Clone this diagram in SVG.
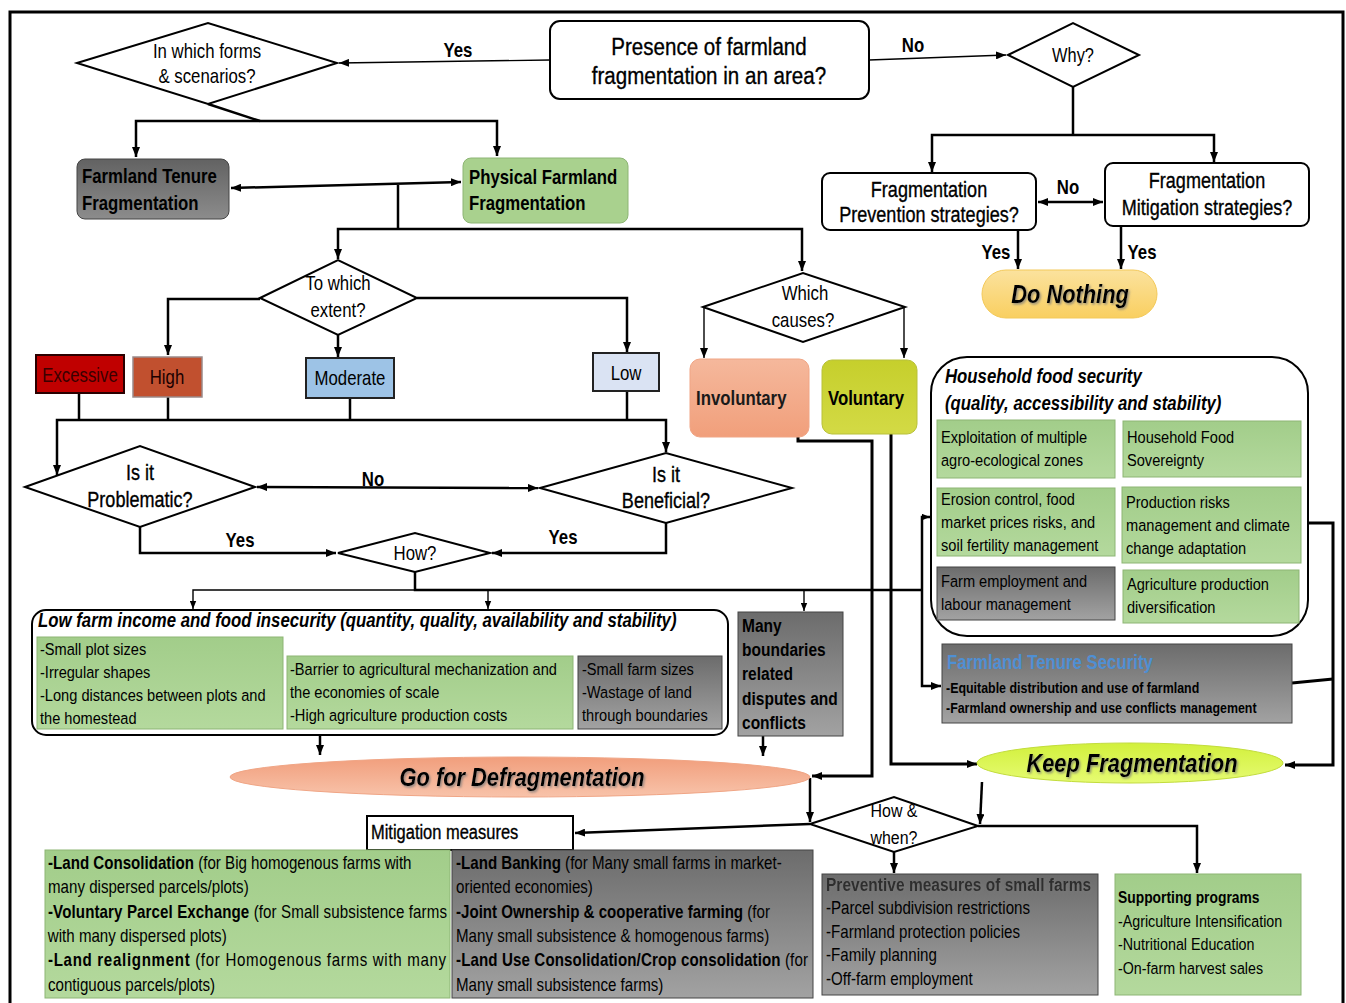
<svg xmlns="http://www.w3.org/2000/svg" width="1346" height="1003" viewBox="0 0 1346 1003">
  <style>
    text { font-family: "Liberation Sans", Arial, sans-serif; fill: #000;
           transform: scaleX(0.84); transform-box: fill-box; transform-origin: 0 0; }
    text.c { text-anchor: middle; transform-origin: 50% 0; }
    .b { font-weight: bold; }
    .i { font-style: italic; }
    .m { stroke: #000; stroke-width: 0.35; }
    .s17 { font-size: 17.4px; }
    .s18 { font-size: 18px; }
    .s20 { font-size: 20px; }
    .s21 { font-size: 21.5px; }
    .s26 { font-size: 26px; }
    .frame { fill: #fff; stroke: #000; stroke-width: 2; }
    .dia { fill: #fff; stroke: #000; stroke-width: 2; }
    .gray { fill: url(#gGray); stroke: #444; stroke-width: 1; }
    .green { fill: url(#gGreen); stroke: #8db574; stroke-width: 1; }
    .lbl { font-size: 20px; font-weight: bold; }
    #connectors path, #connectors line, #connectors polyline { fill: none; stroke: #000; stroke-width: 2.5; }
    #connectors .thin { stroke-width: 1.4; }
    #connectors .thick { stroke-width: 3; }
  </style>
  <defs>
    <linearGradient id="gGray" x1="0" y1="0" x2="0" y2="1">
      <stop offset="0" stop-color="#6c6c6c"/>
      <stop offset="1" stop-color="#a2a2a2"/>
    </linearGradient>
    <linearGradient id="gGrayDark" x1="0" y1="0" x2="0" y2="1">
      <stop offset="0" stop-color="#626262"/>
      <stop offset="1" stop-color="#8c8c8c"/>
    </linearGradient>
    <linearGradient id="gGreen" x1="0" y1="0" x2="0" y2="1">
      <stop offset="0" stop-color="#a2cd8a"/>
      <stop offset="1" stop-color="#b4d99d"/>
    </linearGradient>
    <linearGradient id="gSalmon" x1="0" y1="0" x2="0" y2="1">
      <stop offset="0" stop-color="#f5b89c"/>
      <stop offset="1" stop-color="#f19f7b"/>
    </linearGradient>
    <linearGradient id="gDefrag" x1="0" y1="0" x2="0" y2="1">
      <stop offset="0" stop-color="#f19e7c"/>
      <stop offset="1" stop-color="#f8c3aa"/>
    </linearGradient>
    <linearGradient id="gVol" x1="0" y1="0" x2="0" y2="1">
      <stop offset="0" stop-color="#c6cf2c"/>
      <stop offset="1" stop-color="#d3da45"/>
    </linearGradient>
    <linearGradient id="gGold" x1="0" y1="0" x2="0" y2="1">
      <stop offset="0" stop-color="#fbe29e"/>
      <stop offset="1" stop-color="#f9cf60"/>
    </linearGradient>
    <linearGradient id="gLime" x1="0" y1="0" x2="0" y2="1">
      <stop offset="0" stop-color="#d2f03c"/>
      <stop offset="1" stop-color="#e6fb72"/>
    </linearGradient>
    <filter id="shadow" x="-10%" y="-30%" width="120%" height="160%">
      <feDropShadow dx="1.5" dy="1.5" stdDeviation="1" flood-color="#777" flood-opacity="0.8"/>
    </filter>
    <marker id="arr" viewBox="0 0 10 8" refX="10" refY="4" markerWidth="10" markerHeight="8" markerUnits="userSpaceOnUse" orient="auto-start-reverse">
      <path d="M0,0 L10,4 L0,8 z" fill="#000"/>
    </marker>
    <marker id="arrS" viewBox="0 0 10 8" refX="10" refY="4" markerWidth="8" markerHeight="7" markerUnits="userSpaceOnUse" orient="auto-start-reverse">
      <path d="M0,0 L10,4 L0,8 z" fill="#000"/>
    </marker>
  </defs>

  <!-- page frame -->
  <rect x="10" y="12" width="1333" height="1000" fill="#fff" stroke="#000" stroke-width="3"/>

  <!-- connectors -->
  <g id="connectors">
    <line class="thin" x1="550" y1="60" x2="339" y2="63" marker-end="url(#arr)"/>
    <line class="thin" x1="869" y1="60" x2="1006" y2="55" marker-end="url(#arr)"/>
    <polyline points="208,104 260,121"/>
    <polyline points="136,157 136,121 497,121 497,156" marker-start="url(#arr)" marker-end="url(#arr)"/>
    <line x1="231" y1="188" x2="461" y2="182" marker-start="url(#arr)" marker-end="url(#arr)"/>
    <line x1="398" y1="185" x2="398" y2="229"/>
    <polyline points="338,259 338,229 802,229 802,271" marker-start="url(#arr)" marker-end="url(#arr)"/>
    <polyline points="260,299 168,299 168,355" marker-end="url(#arr)"/>
    <line x1="338" y1="335" x2="338" y2="357" marker-end="url(#arr)"/>
    <polyline points="417,298 627,298 627,352" marker-end="url(#arr)"/>
    <line x1="1073" y1="87" x2="1073" y2="135"/>
    <polyline points="932,172 932,135 1214,135 1214,162" marker-start="url(#arr)" marker-end="url(#arr)"/>
    <line x1="1038" y1="202" x2="1103" y2="202" marker-start="url(#arr)" marker-end="url(#arr)"/>
    <line x1="1018" y1="230" x2="1018" y2="269" marker-end="url(#arr)"/>
    <line x1="1121" y1="226" x2="1121" y2="269" marker-end="url(#arr)"/>
    <line class="thin" x1="704" y1="307" x2="704" y2="358" marker-end="url(#arr)"/>
    <line class="thin" x1="904" y1="307" x2="904" y2="358" marker-end="url(#arr)"/>
    <line x1="79" y1="393" x2="79" y2="420"/>
    <line x1="168" y1="397" x2="168" y2="420"/>
    <line x1="350" y1="398" x2="350" y2="420"/>
    <line x1="627" y1="391" x2="627" y2="420"/>
    <polyline points="57,475 57,420 666,420 666,452" marker-start="url(#arr)" marker-end="url(#arr)"/>
    <line x1="257" y1="487" x2="538" y2="488" marker-start="url(#arr)" marker-end="url(#arr)"/>
    <polyline points="140,527 140,553 336,553" marker-end="url(#arr)"/>
    <polyline points="666,523 666,553 492,553" marker-end="url(#arr)"/>
    <polyline points="415,572 415,590 922,590"/>
    <polyline class="thin" points="193,609 193,590 415,590" marker-start="url(#arrS)"/>
    <line class="thin" x1="488" y1="590" x2="488" y2="609" marker-end="url(#arrS)"/>
    <line class="thin" x1="804" y1="590" x2="804" y2="611" marker-end="url(#arrS)"/>
    <polyline points="930,517 922,517 922,686 941,686" marker-start="url(#arrS)" marker-end="url(#arr)"/>
    <polyline class="thick" points="798,437 798,441 872,441 872,776 812,776" marker-end="url(#arr)"/>
    <polyline class="thick" points="891,434 891,764 977,764" marker-end="url(#arr)"/>
    <polyline class="thick" points="1308,523 1333,523 1333,765 1285,765" marker-end="url(#arr)"/>
    <line class="thick" x1="1292" y1="683" x2="1333" y2="679"/>
    <line x1="320" y1="735" x2="320" y2="755" marker-end="url(#arr)"/>
    <line x1="763" y1="736" x2="763" y2="756" marker-end="url(#arr)"/>
    <line x1="810" y1="778" x2="810" y2="822" marker-end="url(#arr)"/>
    <line x1="810" y1="824" x2="575" y2="833" marker-end="url(#arr)"/>
    <line x1="982" y1="782" x2="980" y2="824" marker-end="url(#arr)"/>
    <polyline points="978,826 1197,826 1197,873" marker-end="url(#arr)"/>
    <line x1="894" y1="852" x2="894" y2="873" marker-end="url(#arr)"/>
    <!-- branch labels -->
    <text class="lbl c" x="458" y="57">Yes</text>
    <text class="lbl c" x="913" y="52">No</text>
    <text class="lbl c" x="1068" y="194">No</text>
    <text class="lbl c" x="996" y="259">Yes</text>
    <text class="lbl c" x="1142" y="259">Yes</text>
    <text class="lbl c" x="373" y="486">No</text>
    <text class="lbl c" x="240" y="547">Yes</text>
    <text class="lbl c" x="563" y="544">Yes</text>
  </g>

  <!-- top decision -->
  <g id="n-presence">
    <rect class="frame" x="550" y="21" width="319" height="78" rx="10"/>
    <text class="c m" x="709" y="55" font-size="24.5">Presence of farmland</text>
    <text class="c m" x="709" y="84" font-size="24.5">fragmentation in an area?</text>
  </g>
  <g id="n-forms">
    <polygon class="dia" points="77,63 208,23 337,63 208,104"/>
    <text class="c s20" x="207" y="58">In which forms</text>
    <text class="c s20" x="207" y="83">&amp; scenarios?</text>
  </g>
  <g id="n-tenure">
    <rect x="77" y="159" width="152" height="60" rx="8" fill="url(#gGrayDark)" stroke="#444" stroke-width="1"/>
    <text class="b s20" x="82" y="183">Farmland Tenure</text>
    <text class="b s20" x="82" y="210">Fragmentation</text>
  </g>
  <g id="n-physical">
    <rect x="463" y="158" width="165" height="65" rx="8" fill="#a9d18e" stroke="#8db574" stroke-width="1"/>
    <text class="b s20" x="469" y="184">Physical Farmland</text>
    <text class="b s20" x="469" y="210">Fragmentation</text>
  </g>

  <!-- no-fragmentation branch -->
  <g id="n-why">
    <polygon class="dia" points="1008,55 1073,23 1139,55 1073,87"/>
    <text class="c" x="1073" y="62" font-size="19.5">Why?</text>
  </g>
  <g id="n-prevention">
    <rect class="frame" x="822" y="173" width="214" height="57" rx="8"/>
    <text class="c s21 m" x="929" y="197">Fragmentation</text>
    <text class="c s21 m" x="929" y="222">Prevention strategies?</text>
  </g>
  <g id="n-mitigation">
    <rect class="frame" x="1105" y="163" width="204" height="63" rx="8"/>
    <text class="c s21 m" x="1207" y="188">Fragmentation</text>
    <text class="c s21 m" x="1207" y="215">Mitigation strategies?</text>
  </g>
  <g id="n-donothing">
    <rect x="982" y="270" width="175" height="48" rx="24" fill="url(#gGold)" stroke="#f3c95a" stroke-width="1"/>
    <text class="c b i s26" x="1070" y="303" filter="url(#shadow)">Do Nothing</text>
  </g>

  <!-- extent -->
  <g id="n-extent">
    <polygon class="dia" points="260,298 338,260 417,298 338,335"/>
    <text class="c s20" x="338" y="290">To which</text>
    <text class="c s20" x="338" y="317">extent?</text>
  </g>
  <g id="n-excessive">
    <rect x="36" y="355" width="88" height="38" fill="#c00000" stroke="#2a0000" stroke-width="2"/>
    <text class="c s20" x="80" y="382" style="fill:#3a0000">Excessive</text>
  </g>
  <g id="n-high">
    <rect x="133" y="357" width="69" height="40" fill="#c1502f" stroke="#9a8a8a" stroke-width="1.5"/>
    <text class="c s20" x="167" y="384" style="fill:#1a0000">High</text>
  </g>
  <g id="n-moderate">
    <rect x="306" y="358" width="88" height="40" fill="#9dc3e6" stroke="#222" stroke-width="2"/>
    <text class="c s20" x="350" y="385">Moderate</text>
  </g>
  <g id="n-low">
    <rect x="593" y="353" width="66" height="38" fill="#dae3f3" stroke="#222" stroke-width="2"/>
    <text class="c s20" x="626" y="380">Low</text>
  </g>

  <!-- causes -->
  <g id="n-causes">
    <polygon class="dia" points="703,307 803,273 905,307 803,342"/>
    <text class="c s20" x="805" y="300">Which</text>
    <text class="c s20" x="803" y="327">causes?</text>
  </g>
  <g id="n-involuntary">
    <rect x="690" y="359" width="119" height="78" rx="10" fill="url(#gSalmon)" stroke="#f0a585" stroke-width="1"/>
    <text class="b s20" x="696" y="405" style="fill:#1a1a1a">Involuntary</text>
  </g>
  <g id="n-voluntary">
    <rect x="822" y="360" width="95" height="74" rx="10" fill="url(#gVol)" stroke="#b8c13a" stroke-width="1"/>
    <text class="b s20" x="828" y="405">Voluntary</text>
  </g>

  <!-- assessment -->
  <g id="n-problematic">
    <polygon class="dia" points="25,487 140,446 255,487 140,527"/>
    <text class="c s21 m" x="140" y="480">Is it</text>
    <text class="c s21 m" x="140" y="507">Problematic?</text>
  </g>
  <g id="n-beneficial">
    <polygon class="dia" points="540,488 666,453 792,488 666,523"/>
    <text class="c s21 m" x="666" y="482">Is it</text>
    <text class="c s21 m" x="666" y="508">Beneficial?</text>
  </g>
  <g id="n-how">
    <polygon class="dia" points="338,553 415,533 490,553 415,572"/>
    <text class="c s20" x="415" y="560">How?</text>
  </g>

  <!-- household food security -->
  <g id="n-foodsec">
    <rect class="frame" x="931" y="357" width="377" height="279" rx="36"/>
    <text class="b i s20" x="945" y="383">Household food security</text>
    <text class="b i s20" x="945" y="410">(quality, accessibility and stability)</text>
    <rect class="green" x="937" y="420" width="178" height="58"/>
    <text class="s17" x="941" y="443">Exploitation of multiple</text>
    <text class="s17" x="941" y="466">agro-ecological zones</text>
    <rect class="green" x="1123" y="421" width="178" height="56"/>
    <text class="s17" x="1127" y="443">Household Food</text>
    <text class="s17" x="1127" y="466">Sovereignty</text>
    <rect class="green" x="937" y="488" width="178" height="68"/>
    <text class="s17" x="941" y="505">Erosion control, food</text>
    <text class="s17" x="941" y="528">market prices risks, and</text>
    <text class="s17" x="941" y="551">soil fertility management</text>
    <rect class="green" x="1122" y="487" width="179" height="76"/>
    <text class="s17" x="1126" y="508">Production risks</text>
    <text class="s17" x="1126" y="531">management and climate</text>
    <text class="s17" x="1126" y="554">change adaptation</text>
    <rect class="gray" x="937" y="567" width="178" height="53"/>
    <text class="s17" x="941" y="587">Farm employment and</text>
    <text class="s17" x="941" y="610">labour management</text>
    <rect class="green" x="1123" y="570" width="176" height="53"/>
    <text class="s17" x="1127" y="590">Agriculture production</text>
    <text class="s17" x="1127" y="613">diversification</text>
  </g>
  <g id="n-tenuresec">
    <rect class="gray" x="942" y="644" width="350" height="79"/>
    <text class="b s20" x="947" y="669" style="fill:#4f8fd3">Farmland Tenure Security</text>
    <text class="b" x="946" y="693" font-size="14.8">-Equitable distribution and use of farmland</text>
    <text class="b" x="946" y="713" font-size="14.8">-Farmland ownership and use conflicts management</text>
  </g>

  <!-- consequences -->
  <g id="n-lowincome">
    <rect class="frame" x="32" y="610" width="696" height="125" rx="14"/>
    <text class="b i s20" x="38" y="627">Low farm income and food insecurity (quantity, quality, availability and stability)</text>
    <rect class="green" x="37" y="637" width="246" height="92"/>
    <text class="s17" x="40" y="655">-Small plot sizes</text>
    <text class="s17" x="40" y="678">-Irregular shapes</text>
    <text class="s17" x="40" y="701">-Long distances between plots and</text>
    <text class="s17" x="40" y="724">the homestead</text>
    <rect class="green" x="287" y="656" width="286" height="73"/>
    <text class="s17" x="290" y="675">-Barrier to agricultural mechanization and</text>
    <text class="s17" x="290" y="698">the economies of scale</text>
    <text class="s17" x="290" y="721">-High agriculture production costs</text>
    <rect class="gray" x="578" y="656" width="144" height="73"/>
    <text class="s17" x="582" y="675">-Small farm sizes</text>
    <text class="s17" x="582" y="698">-Wastage of land</text>
    <text class="s17" x="582" y="721">through boundaries</text>
  </g>
  <g id="n-boundaries">
    <rect class="gray" x="738" y="612" width="105" height="124"/>
    <text class="b" x="742" y="632" font-size="18.5">Many</text>
    <text class="b" x="742" y="656" font-size="18.5">boundaries</text>
    <text class="b" x="742" y="680" font-size="18.5">related</text>
    <text class="b" x="742" y="705" font-size="18.5">disputes and</text>
    <text class="b" x="742" y="729" font-size="18.5">conflicts</text>
  </g>

  <!-- outcomes -->
  <g id="n-defrag">
    <ellipse cx="520" cy="777" rx="290" ry="20" fill="url(#gDefrag)" stroke="#f0a585" stroke-width="1"/>
    <text class="c b i s26" x="522" y="786" filter="url(#shadow)">Go for Defragmentation</text>
  </g>
  <g id="n-keep">
    <ellipse cx="1130" cy="763" rx="153" ry="20" fill="url(#gLime)" stroke="#c2dc3c" stroke-width="1"/>
    <text class="c b i s26" x="1132" y="772" filter="url(#shadow)">Keep Fragmentation</text>
  </g>
  <g id="n-howwhen">
    <polygon class="dia" points="810,824 894,797 978,826 894,852"/>
    <text class="c" x="894" y="817" font-size="19">How &amp;</text>
    <text class="c" x="894" y="844" font-size="19">when?</text>
  </g>

  <!-- measures -->
  <g id="n-mitmeasures">
    <rect class="frame" x="367" y="816" width="206" height="34"/>
    <text class="m" x="371" y="839" font-size="19.6">Mitigation measures</text>
  </g>
  <g id="n-mitgreen">
    <rect class="green" x="45" y="850" width="405" height="148"/>
    <text class="s18" x="48" y="869"><tspan class="b">-Land Consolidation</tspan> (for Big homogenous farms with</text>
    <text class="s18" x="48" y="893">many dispersed parcels/plots)</text>
    <text class="s18" x="48" y="918" textLength="475" lengthAdjust="spacing"><tspan class="b">-Voluntary Parcel Exchange</tspan> (for Small subsistence farms</text>
    <text class="s18" x="48" y="942">with many dispersed plots)</text>
    <text class="s18" x="48" y="966" textLength="474" lengthAdjust="spacing"><tspan class="b">-Land realignment</tspan> (for Homogenous farms with many</text>
    <text class="s18" x="48" y="991">contiguous parcels/plots)</text>
  </g>
  <g id="n-mitgray">
    <rect class="gray" x="452" y="850" width="361" height="148"/>
    <text class="s18" x="456" y="869"><tspan class="b">-Land Banking</tspan> (for Many small farms in market-</text>
    <text class="s18" x="456" y="893">oriented economies)</text>
    <text class="s18" x="456" y="918"><tspan class="b">-Joint Ownership &amp; cooperative farming</tspan> (for</text>
    <text class="s18" x="456" y="942">Many small subsistence &amp; homogenous farms)</text>
    <text class="s18" x="456" y="966" textLength="419" lengthAdjust="spacing"><tspan class="b">-Land Use Consolidation/Crop consolidation</tspan> (for</text>
    <text class="s18" x="456" y="991">Many small subsistence farms)</text>
  </g>
  <g id="n-preventive">
    <rect class="gray" x="822" y="874" width="276" height="121"/>
    <text class="b" x="826" y="891" font-size="18.5" style="fill:#2e2e2e" filter="url(#shadow)">Preventive measures of small farms</text>
    <text class="s18" x="826" y="914">-Parcel subdivision restrictions</text>
    <text class="s18" x="826" y="938">-Farmland protection policies</text>
    <text class="s18" x="826" y="961">-Family planning</text>
    <text class="s18" x="826" y="985">-Off-farm employment</text>
  </g>
  <g id="n-supporting">
    <rect class="green" x="1115" y="874" width="186" height="121"/>
    <text class="b" x="1118" y="903" font-size="16.5">Supporting programs</text>
    <text class="s17" x="1118" y="927" style="font-size:17px">-Agriculture Intensification</text>
    <text class="s17" x="1118" y="950" style="font-size:17px">-Nutritional Education</text>
    <text class="s17" x="1118" y="974" style="font-size:17px">-On-farm harvest sales</text>
  </g>
</svg>
